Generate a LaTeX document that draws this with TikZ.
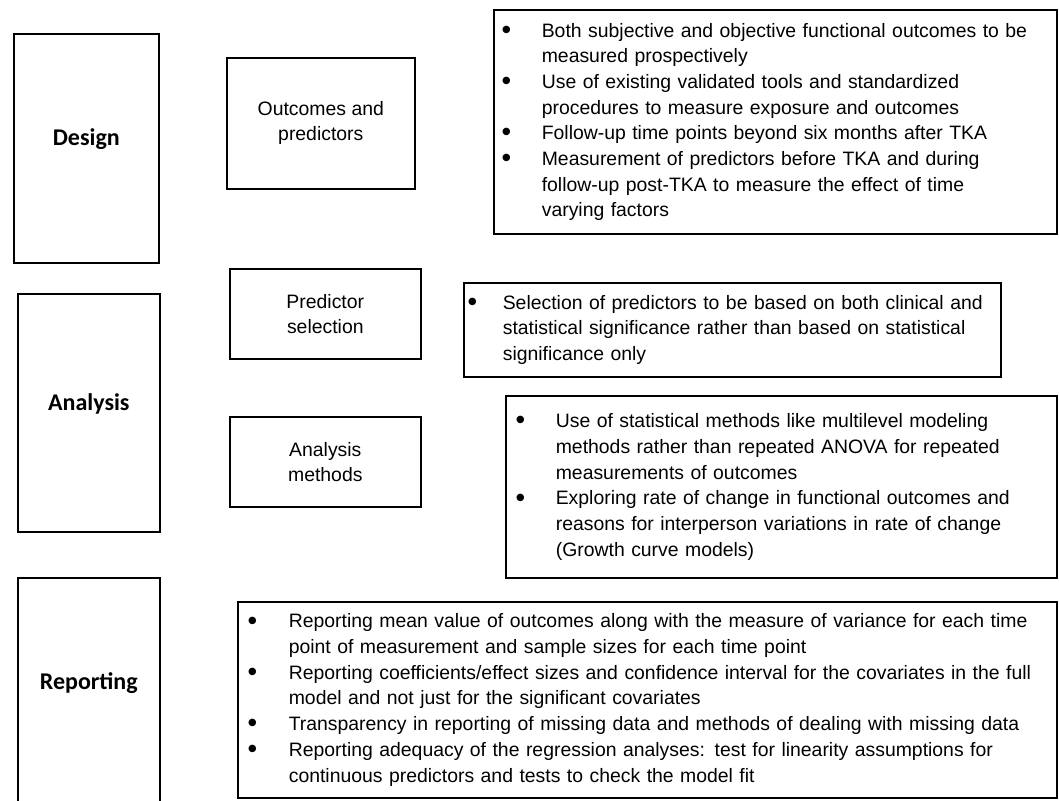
\documentclass[tikz,border=0pt]{standalone}
\usepackage{fontspec}
\setmainfont{Liberation Sans}
\newfontfamily\headfont{Carlito}
\newcommand{\dotmark}{\raisebox{-0.6pt}{\fontsize{13}{12}\selectfont\textbf{•}}}
\begin{document}
\begin{tikzpicture}[x=0.5pt,y=-0.5pt,
    stage/.style={draw,line width=0.8pt,inner sep=0pt,anchor=north west,
        font=\headfont\bfseries\fontsize{12}{14}\selectfont,text depth=11pt},
    topic/.style={draw,line width=0.8pt,inner sep=0pt,anchor=north west,
        align=center,font=\fontsize{9.7}{12.5}\selectfont},
    notes/.style={draw,line width=0.8pt,inner ysep=0pt,anchor=north west,
        font=\fontsize{9.7}{12.85}\selectfont}]
        \useasboundingbox (0,0) rectangle (1059,800);

        % Stages
        \node[stage,minimum width=72.5pt,minimum height=114.5pt] (design) at (13,33) {Design};
        \node[stage,minimum width=71pt,minimum height=119pt] (analysis) at (17,293) {Analysis};
        \node[stage,minimum width=71pt,minimum height=114pt] (reporting) at (17,577) {Reporting};

        % Topics
        \node[topic,minimum width=94pt,minimum height=65.5pt] (outcomes) at (226,57) {Outcomes and\\predictors};
        \node[topic,minimum width=95.5pt,minimum height=45pt] (selection) at (229,268) {Predictor\\selection};
        \node[topic,minimum width=95.5pt,minimum height=45pt] (methods) at (229,416) {Analysis\\methods};

        % Recommendations
        \node[notes,inner xsep=4pt,text width=273.5pt,minimum height=112pt] (designnotes) at (493,9) {%
            \begin{tabular}{@{}p{20pt}@{}l@{}}
            \dotmark & Both subjective and objective functional outcomes to be\\
              & measured prospectively\\
            \dotmark & Use of existing validated tools and standardized\\
              & procedures to measure exposure and outcomes\\
            \dotmark & Follow-up time points beyond six months after TKA\\
            \dotmark & Measurement of predictors before TKA and during\\
              & follow-up post-TKA to measure the effect of time\\
              & varying factors
            \end{tabular}};
        \node[notes,inner xsep=2pt,text width=264.5pt,minimum height=47pt] (selectionnotes) at (463,282) {%
            \begin{tabular}{@{}p{17.5pt}@{}l@{}}
            \dotmark & Selection of predictors to be based on both clinical and\\
              & statistical significance rather than based on statistical\\
              & significance only
            \end{tabular}};
        \node[notes,inner xsep=5pt,text width=265.5pt,minimum height=91pt] (methodsnotes) at (505,395) {%
            \begin{tabular}{@{}p{20pt}@{}l@{}}
            \dotmark & Use of statistical methods like multilevel modeling\\
              & methods rather than repeated ANOVA for repeated\\
              & measurements of outcomes\\
            \dotmark & Exploring rate of change in functional outcomes and\\
              & reasons for interperson variations in rate of change\\
              & (Growth curve models)
            \end{tabular}};
        \node[notes,inner xsep=5pt,text width=399.5pt,minimum height=98pt] (reportingnotes) at (237,601) {%
            \begin{tabular}{@{}p{20.5pt}@{}l@{}}
            \dotmark & Reporting mean value of outcomes along with the measure of variance for each time\\
              & point of measurement and sample sizes for each time point\\
            \dotmark & Reporting coefficients/effect sizes and confidence interval for the covariates in the full\\
              & model and not just for the significant covariates\\
            \dotmark & Transparency in reporting of missing data and methods of dealing with missing data\\
            \dotmark & Reporting adequacy of the regression analyses: test for linearity assumptions for\\
              & continuous predictors and tests to check the model fit
            \end{tabular}};
    \end{tikzpicture}
\end{document}
